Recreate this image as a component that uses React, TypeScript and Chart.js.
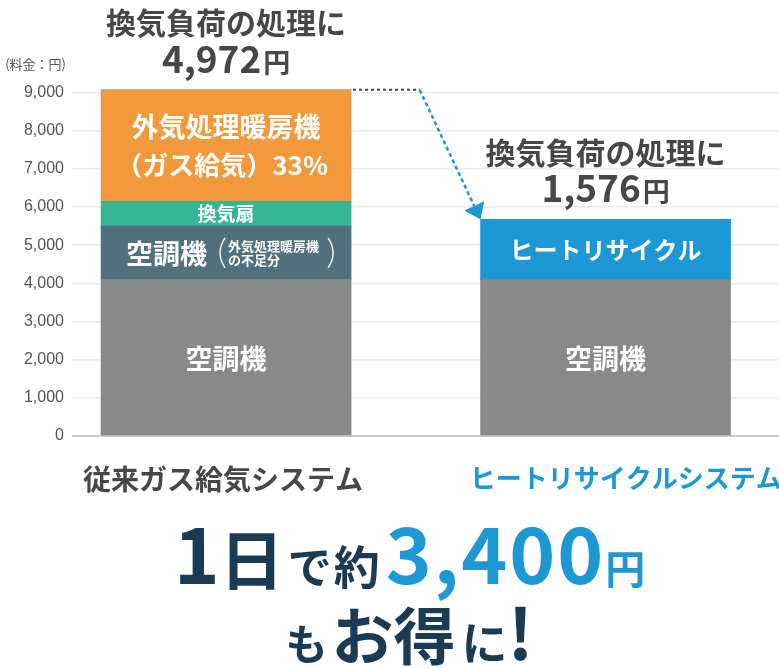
import { useEffect, useRef } from "react";
import { Chart, registerables } from "chart.js";

Chart.register(...registerables);

const JP = '"Noto Sans CJK JP", "Noto Sans", sans-serif';

// data (円/日)
const categories = ["従来ガス給気システム", "ヒートリサイクルシステム"];
const categoryPositions = [0, 1];
const labelPositions = [-0.008, 1.053];
const airconBase = [4100, 4100];
const airconShortfall = [1400, 0];
const ventFan = [650, 0];
const outdoorHeater = [2922, 0];
const heatRecycle = [0, 1576];
const yTickValues = [0, 1000, 2000, 3000, 4000, 5000, 6000, 7000, 8000, 9000];

const GRAY = "#898989";
const SLATE = "#52717f";
const TEAL = "#36b496";
const ORANGE = "#f29a3b";
const BLUE = "#1e98d5";
const NAVY = "#1b3b55";
const TEXT = "#474747";

const series = [
  { name: "空調機", values: airconBase, color: GRAY },
  { name: "空調機（外気処理暖房機の不足分）", values: airconShortfall, color: SLATE },
  { name: "換気扇", values: ventFan, color: TEAL },
  { name: "外気処理暖房機（ガス給気）", values: outdoorHeater, color: ORANGE },
  { name: "ヒートリサイクル", values: heatRecycle, color: BLUE },
];

function text(
  ctx: CanvasRenderingContext2D,
  s: string,
  x: number,
  y: number,
  size: number,
  color: string,
  align: CanvasTextAlign = "center",
  weight = "bold"
) {
  ctx.font = `${weight} ${size}px ${JP}`;
  ctx.fillStyle = color;
  ctx.textAlign = align;
  ctx.textBaseline = "middle";
  ctx.fillText(s, x, y);
}

const annotations = {
  id: "annotations",
  afterDatasetsDraw(chart: Chart) {
    const ctx = chart.ctx;
    const el = (d: number, i: number) => chart.getDatasetMeta(d).data[i] as any;
    const mid = (d: number, i: number) => {
      const e = el(d, i);
      return { x: e.x, y: (e.y + e.base) / 2, w: e.width, top: e.y };
    };
    const topOf = (i: number) => {
      let top = Infinity;
      series.forEach((s, d) => {
        if (s.values[i] > 0) top = Math.min(top, el(d, i).y);
      });
      return top;
    };
    ctx.save();

    // segment labels
    categoryPositions.forEach((_, i) => {
      const g = mid(0, i);
      text(ctx, "空調機", g.x, g.y + 1, 27, "#fff");
    });
    const o = mid(3, 0);
    text(ctx, "外気処理暖房機", o.x, o.y - 19, 27, "#fff");
    text(ctx, "（ガス給気）33%", o.x - 4, o.y + 20, 26, "#fff");
    const t = mid(2, 0);
    text(ctx, "換気扇", t.x, t.y, 19, "#fff");
    const s = mid(1, 0);
    text(ctx, "空調機", s.x - 19, s.y + 1, 27, "#fff", "right");
    text(ctx, "外気処理暖房機", s.x + 2, s.y - 7, 13, "#fff", "left");
    text(ctx, "の不足分", s.x + 2, s.y + 7, 13, "#fff", "left");
    ctx.strokeStyle = "#fff";
    ctx.lineWidth = 1.4;
    ctx.beginPath();
    ctx.moveTo(s.x - 1, s.y - 15);
    ctx.quadraticCurveTo(s.x - 11, s.y, s.x - 1, s.y + 15);
    ctx.moveTo(s.x + 102, s.y - 15);
    ctx.quadraticCurveTo(s.x + 112, s.y, s.x + 102, s.y + 15);
    ctx.stroke();
    const b = mid(4, 1);
    text(ctx, "ヒートリサイクル", b.x, b.y, 24, "#fff");

    // totals above bars
    categoryPositions.forEach((_, i) => {
      const cx = el(0, i).x;
      const top = topOf(i);
      const total = series.reduce((acc, ser) => acc + ser.values[i], 0);
      const amount = (total - airconBase[i]).toLocaleString("en-US");
      text(ctx, "換気負荷の処理に", cx, top - 67, 30, TEXT);
      ctx.textBaseline = "alphabetic";
      ctx.font = `bold 37px ${JP}`;
      const wNum = ctx.measureText(amount).width;
      ctx.font = `bold 27px ${JP}`;
      const wYen = ctx.measureText("円").width;
      const x0 = cx - (wNum + wYen + 2) / 2;
      ctx.fillStyle = TEXT;
      ctx.textAlign = "left";
      ctx.font = `bold 37px ${JP}`;
      ctx.fillText(amount, x0, top - 17);
      ctx.font = `bold 27px ${JP}`;
      ctx.fillText("円", x0 + wNum + 2, top - 17);
    });

    // connector arrow
    const l = el(0, 0);
    const r = el(0, 1);
    const lx = l.x + l.width / 2;
    const rx = r.x - r.width / 2;
    const ly = topOf(0);
    const ry = topOf(1);
    const cornerX = lx + (rx - lx) * 0.53;
    ctx.setLineDash([3, 3]);
    ctx.lineWidth = 2;
    ctx.strokeStyle = "#444";
    ctx.beginPath();
    ctx.moveTo(lx + 2, ly);
    ctx.lineTo(cornerX, ly);
    ctx.stroke();
    const ang = Math.atan2(ry - ly, rx - cornerX);
    const headLen = 15;
    const bx = rx - Math.cos(ang) * headLen;
    const by = ry - Math.sin(ang) * headLen;
    ctx.setLineDash([4, 3]);
    ctx.lineWidth = 2.5;
    ctx.strokeStyle = BLUE;
    ctx.beginPath();
    ctx.moveTo(cornerX, ly);
    ctx.lineTo(bx, by);
    ctx.stroke();
    ctx.setLineDash([]);
    ctx.fillStyle = BLUE;
    ctx.beginPath();
    ctx.moveTo(rx, ry);
    ctx.lineTo(bx + Math.sin(ang) * 11, by - Math.cos(ang) * 11);
    ctx.lineTo(bx - Math.sin(ang) * 11, by + Math.cos(ang) * 11);
    ctx.closePath();
    ctx.fill();

    // unit label
    const ya = chart.scales.y;
    text(ctx, "(料金：円)", ya.right - 6, ya.top - 29, 13, "#555", "right", "normal");
    ctx.restore();
  },
};

export default function App() {
  const chartRef = useRef<HTMLCanvasElement>(null);
  const chartInstance = useRef<Chart | null>(null);

  useEffect(() => {
    if (!chartRef.current) return;
    if (chartInstance.current) chartInstance.current.destroy();
    const ctx = chartRef.current.getContext("2d");
    if (!ctx) return;

    chartInstance.current = new Chart(ctx, {
      type: "bar",
      data: {
        datasets: series.map((s) => ({
          label: s.name,
          data: categoryPositions.map((x, i) => ({ x, y: s.values[i] })),
          backgroundColor: s.color,
          borderWidth: 0,
          barThickness: 250,
          clip: false as any,
        })),
      },
      options: {
        animation: false,
        responsive: true,
        maintainAspectRatio: false,
        locale: "en-US",
        layout: { padding: { top: 92.6, left: 0, right: 0, bottom: 0 } },
        plugins: {
          legend: { display: false },
          tooltip: { enabled: false },
        },
        scales: {
          x: {
            type: "linear",
            min: -0.406,
            max: 1.457,
            offset: false,
            stacked: true,
            grid: { display: false, offset: false },
            border: { display: false },
            afterBuildTicks: (scale: any) => {
              scale.ticks = labelPositions.map((value) => ({ value }));
            },
            afterFit: (scale: any) => {
              scale.height = 64;
              scale.paddingLeft = 0;
              scale.paddingRight = 0;
            },
            ticks: {
              autoSkip: false,
              maxRotation: 0,
              padding: 19,
              callback: (_v: any, index: number) => categories[index],
              color: (c: any) => (c.index === 0 ? TEXT : BLUE),
              font: (c: any) => ({
                family: JP,
                weight: "bold",
                size: c.index === 0 ? 28 : 26,
              }),
            },
          },
          y: {
            stacked: true,
            min: 0,
            max: 9000,
            border: { display: false },
            afterBuildTicks: (scale: any) => {
              scale.ticks = yTickValues.map((value) => ({ value }));
            },
            afterFit: (scale: any) => {
              scale.width = 72;
            },
            grid: {
              drawTicks: false,
              lineWidth: (c: any) => (c.tick && c.tick.value === 0 ? 2 : 1.5),
              color: (c: any) => (c.tick && c.tick.value === 0 ? "#c9c9c9" : "#ececec"),
            },
            ticks: {
              padding: 8,
              color: "#555",
              font: { family: '"Liberation Sans", Arial, sans-serif', size: 16 },
            },
          },
        },
      },
      plugins: [annotations],
    });

    return () => {
      if (chartInstance.current) {
        chartInstance.current.destroy();
        chartInstance.current = null;
      }
    };
  }, []);

  return (
    <div
      style={{
        position: "absolute",
        left: 0,
        top: 0,
        width: 779,
        height: 668,
        background: "#fff",
        overflow: "hidden",
      }}
    >
      <div style={{ position: "relative", width: 779, height: 500 }}>
        <canvas ref={chartRef} />
      </div>
      <div
        style={{
          position: "absolute",
          left: 40,
          top: 511,
          width: 739,
          display: "flex",
          justifyContent: "center",
          alignItems: "baseline",
          fontFamily: JP,
          fontWeight: 700,
          color: NAVY,
          lineHeight: 1,
          whiteSpace: "nowrap",
        }}
      >
        <span style={{ fontSize: 78 }}>1</span>
        <span style={{ fontSize: 64 }}>日</span>
        <span style={{ fontSize: 44, marginLeft: 4 }}>で</span>
        <span style={{ fontSize: 46, marginLeft: 2 }}>約</span>
        <span style={{ fontSize: 78, color: BLUE, letterSpacing: 2, marginLeft: 6 }}>3,400</span>
        <span style={{ fontSize: 40, color: BLUE }}>円</span>
      </div>
      <div
        style={{
          position: "absolute",
          left: 40,
          top: 595,
          width: 739,
          display: "flex",
          justifyContent: "center",
          alignItems: "baseline",
          fontFamily: JP,
          fontWeight: 700,
          color: NAVY,
          lineHeight: 1,
          whiteSpace: "nowrap",
        }}
      >
        <span style={{ fontSize: 42 }}>も</span>
        <span style={{ fontSize: 62, marginLeft: 4 }}>お得</span>
        <span style={{ fontSize: 46, marginLeft: 6 }}>に</span>
        <span style={{ fontSize: 70 }}>!</span>
      </div>
    </div>
  );
}
